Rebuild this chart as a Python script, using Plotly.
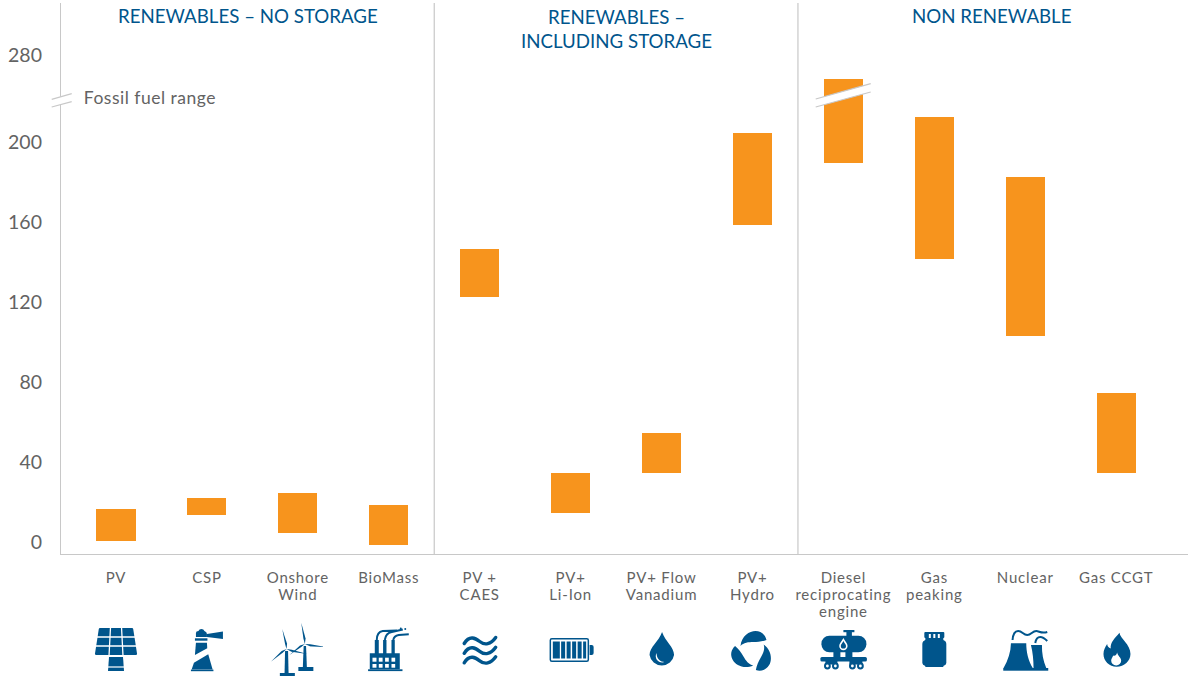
import base64
import plotly.graph_objects as go

categories = ["PV", "CSP", "Onshore<br>Wind", "BioMass", "PV +<br>CAES", "PV+<br>Li-Ion",
              "PV+ Flow<br>Vanadium", "PV+<br>Hydro", "Diesel<br>reciprocating<br>engine",
              "Gas<br>peaking", "Nuclear", "Gas CCGT"]
# positions on the drawn (broken) axis: the span above the break is compressed
lows = [0.5, 13.5, 4.5, -1.5, 122.5, 14.5, 34.5, 158.5, 189.5, 141.5, 103, 34.5]
highs = [16.5, 22, 24.5, 18.5, 146.5, 34.5, 54.5, 204.5, 231.5, 212.5, 182.5, 74.5]
y_tick_vals = [0, 40, 80, 120, 160, 200, 243.5]
y_tick_text = ["0", "40", "80", "120", "160", "200", "280"]
group_titles = ["RENEWABLES – NO STORAGE", "RENEWABLES –<br>INCLUDING STORAGE", "NON RENEWABLE"]
group_title_px = [248, 616, 992]
group_dividers = [3.5, 7.5]

ORANGE = "#F7941D"
BLUE = "#00558C"
GREY = "#636363"
RULE = "#C8C8C8"
FONT = "Lato"
W, H = 1188, 676
L, R, T, B = 61, 1188, 3, 554
X0, X1 = -0.605, 11.79


def px(x):
    return (x - L) / (R - L)


def py(y):
    return (B - y) / (B - T)


def blade(hx, hy, tx, ty, w=1.6):
    dx, dy = tx - hx, ty - hy
    n = (dx * dx + dy * dy) ** 0.5
    nx, ny = -dy / n * w, dx / n * w
    mx, my = hx + dx * 0.25, hy + dy * 0.25
    return (f'<polygon points="{hx},{hy} {mx+nx:.1f},{my+ny:.1f} {tx},{ty} {mx-nx*0.3:.1f},{my-ny*0.3:.1f}"/>')


def wave(y):
    return (f'<path d="M-15.5 {y+3} C-10 {y-6} -4 {y-2} 0 {y+1} C5 {y+5} 11 {y+4} 16 {y-3}"/>')


W_LN = 'stroke="#fff" fill="none"'
ROT = '<path d="M-12 -6 C-11 -16 -3 -21 3 -21 C9 -21 13 -17 14 -12 C10 -10.5 5 -10 1 -10 C-4 -10 -9 -9.5 -12 -6 Z"/>'
ICONS = [
    # PV panel
    f'''<path d="M-16 6 H16 Q17 6 17.2 7 L21 31.5 Q21 33 20 33 H-20 Q-21 33 -21 31.5 L-17.2 7 Q-17 6 -16 6 Z"/>
    <g {W_LN} stroke-width="1.3"><path d="M-21 15 H21 M-21 24 H21 M-5.5 5 L-7 34 M5.5 5 L7 34"/></g>
    <path d="M-7 35 H7 L8 49 H-8 Z"/><path d="M-8 45 H8" {W_LN} stroke-width="1.2"/>''',
    # lighthouse
    '''<path d="M-11 15 V11 Q-11 9 -8.5 9 A3.2 3.2 0 0 1 -2.5 9 Q0 10 0 12 V15 Z"/>
    <path d="M0 12 L16 9.5 V17 L0 15 Z"/><rect x="-12" y="16.3" width="12.5" height="2.4"/>
    <path d="M-11 20.7 H0 L0.3 26.3 L-12 33 Z"/><path d="M-13 40.7 L1.3 32.3 L5.7 47.6 H-15.3 Z"/>
    <rect x="-16" y="47.6" width="22.5" height="1.6"/>''',
    # wind turbines
    ''.join([blade(-11.3, 27, -15.6, 7), blade(-11.3, 27, 9.4, 32), blade(-11.3, 27, -27, 39.7),
             blade(7, 22, 3.4, 0.7), blade(7, 22, 28, 25), blade(7, 22, -8.4, 33)]) +
    '''<path d="M-12.8 29 H-9.8 L-9.3 51 H-13.3 Z"/><rect x="-18" y="51" width="15" height="3"/>
    <path d="M5.8 24 H8.2 L9 45 H5 Z"/><rect x="0.5" y="45" width="15" height="4"/>''',
    # factory
    f'''<path d="M-19 31.3 H-14 V18 H-10 V31.3 H-5.7 V18 H-2.3 V31.3 H2.7 V18 H6 V31.3 H11 V47.3 H-19 Z"/>
    <rect x="-20.7" y="47.3" width="34.4" height="1.8"/>
    <path d="M-12 18 Q-12 10 -6 9 L8 8.5 M-4 18 Q-3 11 3 10 L14 7.5 M4.5 18 Q5 14 10 13 L20 12.3" fill="none" stroke="{BLUE}" stroke-width="2"/>
    <circle cx="12" cy="6.5" r="1"/><circle cx="16.5" cy="7" r="1"/>
    <g fill="#fff"><rect x="-16.3" y="35.7" width="4" height="4"/><rect x="-10" y="35.7" width="3.8" height="4"/><rect x="-3.7" y="35.7" width="3.7" height="4"/><rect x="2.7" y="35.7" width="3.7" height="4"/>
    <rect x="-16.3" y="42" width="4" height="3.7"/><rect x="-10" y="42" width="3.8" height="3.7"/><rect x="-3.7" y="42" width="3.7" height="3.7"/><rect x="2.7" y="42" width="3.7" height="3.7"/></g>''',
    # waves
    f'''<g fill="none" stroke="{BLUE}" stroke-width="3.4" stroke-linecap="round">{wave(18.5)}{wave(28.3)}{wave(37.8)}</g>''',
    # battery
    f'''<rect x="-20.3" y="16.8" width="38" height="22.5" rx="1.5" fill="none" stroke="{BLUE}" stroke-width="1.5"/>
    <path d="M19 23 H21 Q23 23 23 25 V31 Q23 33 21 33 H19 Z"/>
    <rect x="-17.8" y="19.5" width="7" height="17"/><rect x="-9.5" y="19.5" width="4" height="17"/><rect x="-4" y="19.5" width="4" height="17"/><rect x="1.5" y="19.5" width="4" height="17"/><rect x="7" y="19.5" width="4" height="17"/><rect x="12.5" y="19.5" width="3" height="17"/>''',
    # drop
    '''<path d="M0.5 10 C4 20 12.5 25 12.5 33 A12.4 12.4 0 0 1 -12 33 C-12 25 -3 20 0.5 10 Z"/>
    <path d="M-5 31 C-5 37 -1 40 3 40 C-2 42 -8 37 -5 31 Z" fill="#fff"/>''',
    # hydro swirl
    f'''<g transform="translate(0,30)">{ROT}<g transform="rotate(120)">{ROT}</g><g transform="rotate(240)">{ROT}</g></g>''',
    # rail tanker
    f'''<rect x="0" y="8" width="11" height="2.2"/><rect x="3" y="10" width="5.5" height="4"/>
    <rect x="-22" y="13.7" width="45" height="16.6" rx="8"/><path d="M-10 30 H-3 V35.5 H-10 Z M2 30 H9 V35.5 H2 Z"/>
    <rect x="-23" y="35" width="46.5" height="4.5" rx="1.5"/><path d="M-18 39 H-6 V42.5 H-18 Z M6 39 H19 V42.5 H6 Z"/>
    <path d="M0 16 C2 19.5 4.2 21.5 4.2 24 A4.2 4.2 0 0 1 -4.2 24 C-4.2 21.5 -2 19.5 0 16 Z" fill="#fff"/>
    <path d="M0 19 C1 21 2.6 22.5 2.6 24 A2.6 2.6 0 0 1 -2.6 24 C-2.6 22.5 -1 21 0 19 Z"/>
    <g fill="#fff" stroke="{BLUE}" stroke-width="2"><circle cx="-16" cy="44" r="2.4"/><circle cx="-8" cy="44" r="2.4"/><circle cx="9" cy="44" r="2.4"/><circle cx="17" cy="44" r="2.4"/></g>''',
    # gas cylinder
    '''<path d="M-9 10 H9 Q10 10 10 11 V15 Q10 16 9 16 L9 18 Q12 19 12 22 V41 Q12 43 9 44 V45 H-9 V44 Q-12 43 -12 41 V22 Q-12 19 -9 18 L-9 16 Q-10 16 -10 15 V11 Q-10 10 -9 10 Z"/>
    <g fill="#fff"><rect x="-5.5" y="12" width="2" height="4"/><rect x="-1" y="12" width="2" height="4"/><rect x="3.5" y="12" width="2" height="4"/></g>''',
    # nuclear plant
    f'''<path d="M-14.3 21.3 H1 C1 30 3 39 7.5 46 H-21.7 C-17 38 -14.5 30 -14.3 21.3 Z"/>
    <path d="M5.7 23 H16.7 C16.5 31 18 39 21 46 H8.3 C8.3 38 7.5 30 5.7 23 Z"/><rect x="-22" y="46" width="45" height="2.7"/>
    <path d="M-12.7 18 Q-12 9 -7 9 C-3 9 -2 13 2 13 C6 13 7 9 11 9 C14 9 16 12 22 10 M10 21 Q11 15 15 15 Q18 15 22 19" fill="none" stroke="{BLUE}" stroke-width="2"/>''',
    # flame
    '''<path d="M3.3 10.7 C4 17 14.3 22 14.3 32 C14.3 39 8 44.7 0.5 44.7 C-7 44.7 -12.7 39 -12.7 32 C-12.7 28 -11 25 -9 22 C-9 24 -7.5 26 -5.5 26.5 C-6 20 -1 16 3.3 10.7 Z"/>
    <path d="M1 30.5 C1.5 34 5 35.5 5 38.5 A5 5 0 0 1 -5 38.5 C-5 36.5 -3.5 35.5 -3 33.5 C-1.5 34.5 0.5 33 1 30.5 Z" fill="#fff"/>''',
]

ICON_W, ICON_H, ICON_TOP = 64, 54, 622
images = []
for i, body in enumerate(ICONS):
    svg = (f'<svg xmlns="http://www.w3.org/2000/svg" width="{ICON_W}" height="{ICON_H}" '
           f'viewBox="{-ICON_W / 2} 0 {ICON_W} {ICON_H}" fill="{BLUE}">{body}</svg>')
    uri = "data:image/svg+xml;base64," + base64.b64encode(svg.encode()).decode()
    images.append(dict(source=uri, xref="paper", yref="paper",
                       x=(i - X0) / (X1 - X0), y=py(ICON_TOP),
                       sizex=ICON_W / (R - L), sizey=ICON_H / (B - T),
                       xanchor="center", yanchor="top", sizing="stretch", layer="above"))

fig = go.Figure(go.Bar(
    x=categories, y=[h - l for h, l in zip(highs, lows)], base=lows,
    width=0.43, marker=dict(color=ORANGE, line_width=0), hoverinfo="skip",
))


def break_mark(x0, x1, y0a, y1a, y0b, y1b):
    """Slanted axis-break: white band with grey edges, in page pixels."""
    pts = [(x0, y0a), (x1, y1a), (x1, y1b), (x0, y0b)]
    d = "M" + " L".join(f"{px(a):.5f} {py(b):.5f}" for a, b in pts) + " Z"
    return [
        dict(type="path", xref="paper", yref="paper", path=d, fillcolor="white", line_width=0, layer="above"),
        dict(type="line", xref="paper", yref="paper", x0=px(x0), x1=px(x1), y0=py(y0a), y1=py(y1a),
             line=dict(color=RULE, width=1.2), layer="above"),
        dict(type="line", xref="paper", yref="paper", x0=px(x0), x1=px(x1), y0=py(y0b), y1=py(y1b),
             line=dict(color=RULE, width=1.2), layer="above"),
    ]


shapes = [dict(type="line", xref="x", yref="paper", x0=d, x1=d, y0=0, y1=1,
               line=dict(color=RULE, width=1.2), layer="below") for d in group_dividers]
shapes += break_mark(51.7, 71.7, 99.3, 93.7, 107, 101.7)
shapes += break_mark(815.7, 870.7, 99, 83.7, 107, 92)

annotations = [dict(text=t, xref="paper", yref="paper", x=px(p), y=py(16 if "<br>" not in t else 29),
                    xanchor="center", yanchor="middle", showarrow=False, align="center",
                    font=dict(family=FONT, size=18.7, color=BLUE))
               for t, p in zip(group_titles, group_title_px)]
annotations.append(dict(text="Fossil fuel range", xref="paper", yref="paper", x=px(86), y=py(97),
                        xanchor="left", yanchor="middle", showarrow=False,
                        font=dict(family=FONT, size=17.5, color=GREY)))

fig.update_layout(
    width=W, height=H, margin=dict(l=L, r=W - R, t=T, b=H - B, pad=0),
    paper_bgcolor="white", plot_bgcolor="white", showlegend=False, bargap=0,
    shapes=shapes, annotations=annotations, images=images,
    xaxis=dict(type="category", range=[X0, X1], categoryorder="array", categoryarray=categories,
               showgrid=False, zeroline=False, showline=True, linecolor=RULE, linewidth=1.2,
               ticks="", tickangle=0, tickfont=dict(family=FONT, size=15, color=GREY),
               ticklabelstandoff=10),
    yaxis=dict(range=[-6, 269.5], tickmode="array", tickvals=y_tick_vals, ticktext=y_tick_text,
               showgrid=False, zeroline=False, showline=True, linecolor=RULE, linewidth=1.2,
               ticks="", tickfont=dict(family=FONT, size=19.5, color=GREY), ticklabelstandoff=14),
)

post = """
document.body.style.margin='0';
document.querySelectorAll('.xtick text').forEach(t=>{
  t.style.letterSpacing='0.8px';
  t.querySelectorAll('tspan.line').forEach(s=>{
    var d=s.getAttribute('dy'); if(d){s.setAttribute('dy',(parseFloat(d)/1.3*17)+'px');}
  });
});
document.querySelectorAll('.annotation-text').forEach(t=>{
  if(t.textContent.indexOf('Fossil')===0){t.style.letterSpacing='0.5px';}
});
"""
fig.write_html("out.html", post_script=post, config={"displayModeBar": False})
